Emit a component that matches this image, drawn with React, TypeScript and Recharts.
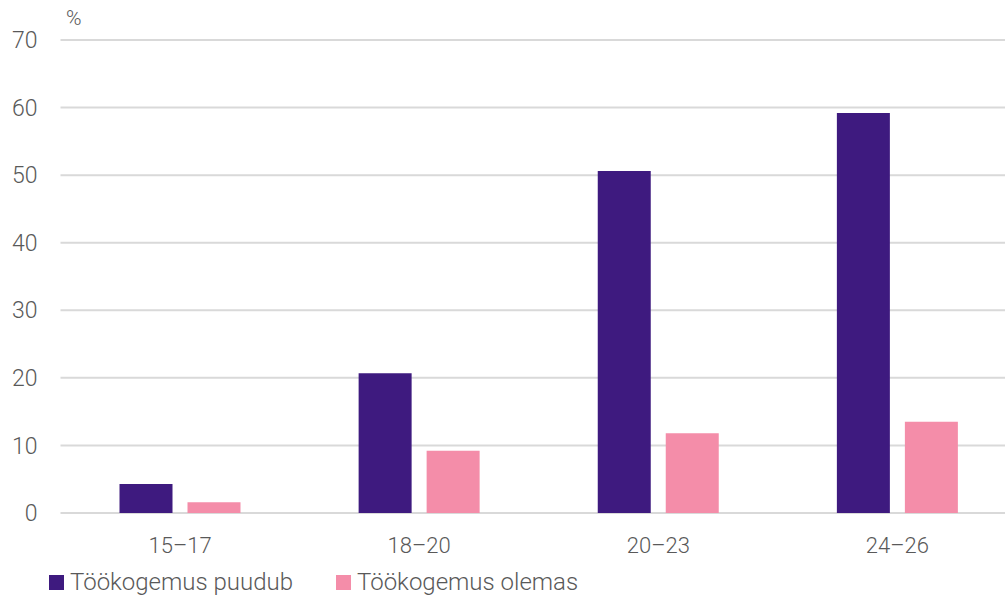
import React from "react";
import { BarChart, Bar, XAxis, YAxis, CartesianGrid } from "recharts";

const ageGroups = ["15–17", "18–20", "20–23", "24–26"];
const noExperience = [4.3, 20.7, 50.6, 59.2];
const hasExperience = [1.6, 9.2, 11.8, 13.5];
const yTicks = [0, 10, 20, 30, 40, 50, 60, 70];

const series = [
  { key: "puudub", name: "Töökogemus puudub", color: "#3E1A7F", values: noExperience },
  { key: "olemas", name: "Töökogemus olemas", color: "#F48DA9", values: hasExperience },
];

const data = ageGroups.map((group, i) => ({
  group,
  puudub: noExperience[i],
  olemas: hasExperience[i],
}));

const font = "Roboto, 'Noto Sans', sans-serif";
const textColor = "#595959";

const App: React.FC = () => {
  return (
    <div
      style={{
        position: "absolute",
        left: 0,
        top: 0,
        width: 1005,
        height: 598,
        overflow: "hidden",
        background: "#fff",
        fontFamily: font,
      }}
    >
      <BarChart
        width={1017}
        height={598}
        data={data}
        margin={{ top: 40, right: 0, left: 0, bottom: 40 }}
        barSize={53}
        barGap={15}
      >
        <CartesianGrid vertical={false} stroke="#d9d9d9" strokeWidth={2} />
        <XAxis
          dataKey="group"
          axisLine={false}
          tickLine={false}
          tickSize={0}
          tickMargin={24}
          height={45}
          tick={{ fill: textColor, fontSize: 22, fontWeight: 300, fontFamily: font }}
        />
        <YAxis
          width={60.5}
          domain={[0, 70]}
          ticks={yTicks}
          axisLine={false}
          tickLine={false}
          tickSize={0}
          tickMargin={23}
          tick={{ fill: textColor, fontSize: 23, fontWeight: 300, fontFamily: font }}
        />
        {series.map((s) => (
          <Bar key={s.key} dataKey={s.key} name={s.name} fill={s.color} isAnimationActive={false} />
        ))}
      </BarChart>
      <div
        style={{
          position: "absolute",
          left: 66,
          top: 6,
          fontSize: 21,
          fontWeight: 300,
          color: textColor,
        }}
      >
        %
      </div>
      <div
        style={{
          position: "absolute",
          left: 49,
          top: 568,
          display: "flex",
          alignItems: "center",
          fontSize: 24,
          fontWeight: 300,
          color: textColor,
        }}
      >
        {series.map((s, i) => (
          <div
            key={s.key}
            style={{ display: "flex", alignItems: "center", marginRight: i === 0 ? 43 : 0 }}
          >
            <span
              style={{ width: 15, height: 15, background: s.color, display: "inline-block", marginRight: 6 }}
            />
            <span>{s.name}</span>
          </div>
        ))}
      </div>
    </div>
  );
};

export default App;
